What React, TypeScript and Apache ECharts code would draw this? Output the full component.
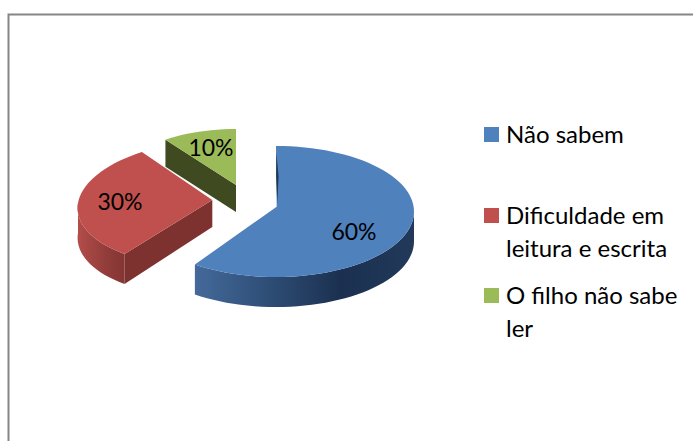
import React, { useEffect, useRef } from "react";
import * as echarts from "echarts";

const categories = ["Não sabem", "Dificuldade em leitura e escrita", "O filho não sabe ler"];
const legendLines = [["Não sabem"], ["Dificuldade em", "leitura e escrita"], ["O filho não sabe", "ler"]];
const shareValues = [60, 30, 10];
const topColors = ["#4f81bd", "#c0504d", "#9bbb59"];
const cutColors = ["#1f3553", "#7e3230", "#3f4a20"];
const wallStops = [
  ["#44699a", "#2e4e76", "#1b3050", "#22395a"],
  ["#b34d4a", "#a04441", "#8f3b39", "#843533"],
  ["#3f4a20", "#3f4a20", "#3f4a20", "#3f4a20"],
];

// Projected pie geometry per slice (apex, ellipse centre, radii, shear, wall depths, label position)
const sliceLayout = [
  { ax: 276.7, ay: 206.7, cx: 276, cy: 211.5, rx: 138, ry: 65.5, shear: 0, d: 30, da: 0, lx: 354, ly: 231 },
  { ax: 212.3, ay: 200, cx: 212, cy: 203, rx: 134, ry: 63, shear: -0.17, d: 30, da: 27, lx: 120, ly: 201 },
  { ax: 236, ay: 185, cx: 236, cy: 185, rx: 120, ry: 56, shear: 0, d: 27, da: 27, lx: 211, ly: 147 },
];
const fontFamily = "Lato, Carlito, sans-serif";
const legendFontSize = 24;
const labelFontSize = 23;
const legendX = 484;
const legendTextX = 506;
const legendRowY = [134.5, 215.5, 295.5];
const legendTextShift = -1.5;
const legendLineHeight = 33;

function pt(l: any, deg: number, dy = 0): [number, number] {
  const t = (deg * Math.PI) / 180;
  const y = l.cy - l.ry * Math.cos(t);
  return [l.cx + l.rx * Math.sin(t) + l.shear * (y - l.cy), y + dy];
}

function arcPath(l: any, a0: number, a1: number, dy: number, reverse: boolean) {
  let s = "";
  const n = Math.max(2, Math.ceil(Math.abs(a1 - a0) / 3));
  for (let i = 1; i <= n; i++) {
    const f = i / n;
    const a = reverse ? a1 + (a0 - a1) * f : a0 + (a1 - a0) * f;
    const p = pt(l, a, dy);
    s += `L${p[0].toFixed(2)} ${p[1].toFixed(2)} `;
  }
  return s;
}

function renderSlice(params: any, api: any) {
  const i = params.dataIndex;
  const total = shareValues.reduce((a, b) => a + b, 0);
  let start = 0;
  for (let k = 0; k < i; k++) start += (shareValues[k] / total) * 360;
  const sweep = (api.value(0) / total) * 360;
  const end = start + sweep;
  const l = sliceLayout[i];
  const children: any[] = [];

  // outer wall: only the part of the rim facing the viewer (90..270 degrees)
  const w0 = Math.max(start, 90);
  const w1 = Math.min(end, 270);
  if (w1 > w0) {
    const p0 = pt(l, w0);
    const pEnd = pt(l, w1, l.d);
    const d =
      `M${p0[0]} ${p0[1]} ` + arcPath(l, w0, w1, 0, false) + `L${pEnd[0]} ${pEnd[1]} ` + arcPath(l, w0, w1, l.d, true) + "Z";
    const stops = wallStops[i];
    const flip = i === 0;
    children.push({
      type: "path",
      shape: { pathData: d },
      style: {
        fill: {
          type: "linear",
          x: flip ? 1 : 0,
          y: 0,
          x2: flip ? 0 : 1,
          y2: 0,
          colorStops: (flip ? [...stops].reverse() : stops).map((c, j) => ({
            offset: j / 3,
            color: c,
          })),
        },
      },
    });
  }

  // cut wall seen through the exploded gap
  if (i > 0) {
    const e = pt(l, start);
    const d = `M${l.ax} ${l.ay} L${e[0]} ${e[1]} L${e[0]} ${e[1] + l.d} L${l.ax} ${l.ay + l.da} Z`;
    children.push({ type: "path", shape: { pathData: d }, style: { fill: cutColors[i] } });
  }

  // top face
  const p0 = pt(l, start);
  children.push({
    type: "path",
    shape: { pathData: `M${l.ax} ${l.ay} L${p0[0]} ${p0[1]} ` + arcPath(l, start, end, 0, false) + "Z" },
    style: { fill: topColors[i] },
  });

  // the first slice's back wall shows as a thin dark sliver along its upright edge
  if (i === 0) {
    const mx = (p0[0] + l.ax) / 2;
    const my = (p0[1] + l.ay) / 2;
    const d = `M${p0[0] + 0.3} ${p0[1] + 6} L${mx + 2.2} ${my} L${l.ax + 0.6} ${l.ay - 3} L${mx - 0.2} ${my} Z`;
    children.push({ type: "path", shape: { pathData: d }, style: { fill: cutColors[0] } });
  }

  children.push({
    type: "text",
    style: {
      x: l.lx,
      y: l.ly,
      text: `${api.value(0)}%`,
      fill: "#000000",
      font: `${labelFontSize}px ${fontFamily}`,
      textAlign: "center",
      textVerticalAlign: "middle",
    },
  });
  return { type: "group", children };
}

const legendGraphics: any[] = categories.flatMap((_, i) => [
  {
    type: "rect",
    shape: { x: legendX, y: legendRowY[i] - 7.5, width: 15, height: 15 },
    style: { fill: topColors[i] },
  },
  ...legendLines[i].map((line, j) => ({
    type: "text",
    style: {
      x: legendTextX,
      y: legendRowY[i] + legendTextShift + j * legendLineHeight,
      text: line,
      fill: "#000000",
      font: `${legendFontSize}px ${fontFamily}`,
      textVerticalAlign: "middle",
    },
  })),
]);

export default function App() {
  const ref = useRef<HTMLDivElement>(null);
  useEffect(() => {
    document.body.style.margin = "0";
    const chart = echarts.init(ref.current!, null, { renderer: "svg" });
    chart.setOption({
      animation: false,
      backgroundColor: "#ffffff",
      graphic: [
        {
          type: "polyline",
          shape: { points: [[8.5, 441], [8.5, 14.5], [693, 14.5]] },
          style: { stroke: "#868686", lineWidth: 2, fill: "none" },
        },
        ...legendGraphics,
      ],
      series: [
        {
          type: "custom",
          coordinateSystem: "none",
          renderItem: renderSlice,
          data: shareValues.map((v, i) => ({ name: categories[i], value: [v] })),
          silent: true,
        },
      ],
    });
    return () => chart.dispose();
  }, []);
  return <div ref={ref} style={{ width: 693, height: 441 }} />;
}
